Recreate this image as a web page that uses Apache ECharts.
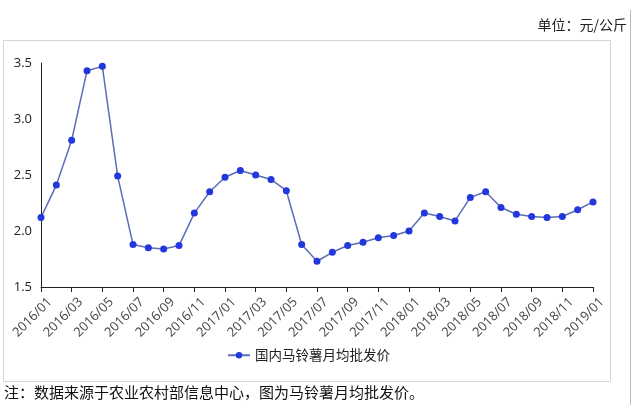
<!DOCTYPE html>
<html>
<head>
<meta charset="utf-8">
<script src="https://cdn.jsdelivr.net/npm/echarts@6/dist/echarts.min.js"></script>
<style>
html,body{margin:0;padding:0;background:#fff;}
#c{width:635px;height:412px;}
</style>
</head>
<body>
<div id="c"></div>
<script>
const categories = ['2016/01','2016/02','2016/03','2016/04','2016/05','2016/06','2016/07','2016/08','2016/09','2016/10','2016/11','2016/12',
'2017/01','2017/02','2017/03','2017/04','2017/05','2017/06','2017/07','2017/08','2017/09','2017/10','2017/11','2017/12',
'2018/01','2018/02','2018/03','2018/04','2018/05','2018/06','2018/07','2018/08','2018/09','2018/10','2018/11','2018/12','2019/01'];
const prices = [2.12,2.41,2.81,3.43,3.47,2.49,1.88,1.85,1.84,1.87,2.16,2.35,
2.48,2.54,2.50,2.46,2.36,1.88,1.73,1.81,1.87,1.90,1.94,1.96,
2.00,2.16,2.13,2.09,2.30,2.35,2.21,2.15,2.13,2.12,2.13,2.19,2.26];
const seriesName = '国内马铃薯月均批发价';
const unitText = '单位：元/公斤';
const noteText = '注：数据来源于农业农村部信息中心，图为马铃薯月均批发价。';

const chart = echarts.init(document.getElementById('c'));
chart.setOption({
  animation:false,
  backgroundColor:'#fff',
  graphic:[
    {type:'rect',shape:{x:3.5,y:40.5,width:607,height:341},style:{fill:'none',stroke:'#d4d4d4',lineWidth:1},silent:true},
    {type:'line',shape:{x1:630.5,y1:10,x2:630.5,y2:405},style:{stroke:'#bdbdbd',lineWidth:1},silent:true},
    {type:'text',right:8,top:18,style:{text:unitText,font:'14px "Noto Sans CJK SC"',fill:'#222'}},
    {type:'text',left:4,top:385,style:{text:noteText,font:'15px "Noto Sans CJK SC"',fill:'#111'}}
  ],
  grid:[
    {left:41,right:42,top:63,bottom:125,containLabel:false,outerBoundsMode:'none'},
    {left:50,right:33,top:63,bottom:125,containLabel:false,outerBoundsMode:'none'}
  ],
  legend:{
    data:[seriesName],
    bottom:45,
    left:222,
    itemWidth:22,itemHeight:8,itemGap:6,
    textStyle:{fontFamily:'"Noto Sans CJK SC"',fontSize:13.5,color:'#222'}
  },
  xAxis:[{
    type:'category',
    gridIndex:0,
    data:categories,
    boundaryGap:false,
    axisLine:{lineStyle:{color:'#222',width:1}},
    axisTick:{show:true,interval:1,length:5,lineStyle:{color:'#222'}},
    axisLabel:{show:false}
  },{
    type:'category',
    gridIndex:1,
    data:categories,
    boundaryGap:false,
    axisLine:{show:false},
    axisTick:{show:false},
    axisLabel:{interval:1,rotate:45,showMinLabel:true,showMaxLabel:true,fontFamily:'"Open Sans"',fontSize:13,color:'#444',margin:13}
  }],
  yAxis:[{
    type:'value',
    gridIndex:0,
    min:1.5,max:3.5,interval:0.5,
    axisLine:{show:true,lineStyle:{color:'#222',width:1}},
    axisTick:{show:false},
    splitLine:{show:false},
    axisLabel:{formatter:v=>v.toFixed(1),fontFamily:'"Open Sans"',fontSize:13,color:'#222',margin:9}
  },{
    type:'value',
    gridIndex:1,
    min:1.5,max:3.5,
    show:false
  }],
  series:[{
    name:seriesName,
    type:'line',
    xAxisIndex:0,yAxisIndex:0,
    data:prices,
    symbol:'circle',
    symbolSize:7,
    lineStyle:{color:'#5d6bb8',width:1.5},
    itemStyle:{color:'#2238dc'}
  }]
});
</script>
</body>
</html>
